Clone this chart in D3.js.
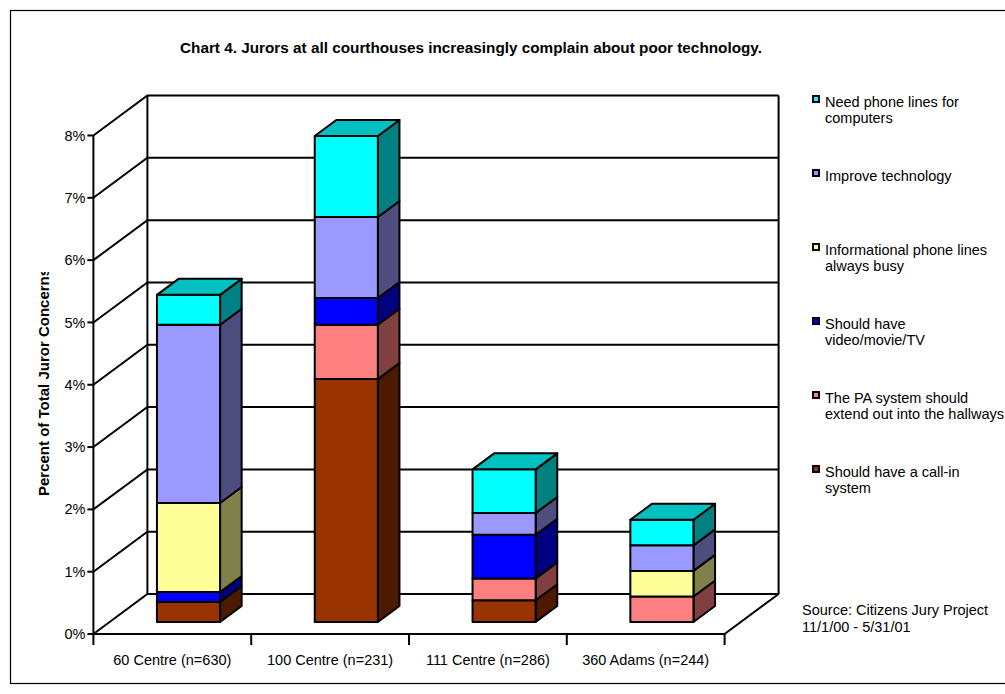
<!DOCTYPE html>
<html>
<head>
<meta charset="utf-8">
<script src="https://cdn.jsdelivr.net/npm/d3@7"></script>
<style>
  html, body { margin: 0; padding: 0; background: #fff; }
  svg text { font-family: "Liberation Sans", Arial, sans-serif; fill: #000; }
</style>
</head>
<body>
<svg id="chart" width="1005" height="694"></svg>
<script>
// Courthouses (x categories)
const courthouses = ["60 Centre (n=630)", "100 Centre (n=231)", "111 Centre (n=286)", "360 Adams (n=244)"];

// Share of total juror concerns, in percent, one array per concern
const callIn      = [0.32, 3.90, 0.35, 0.00];
const paSystem    = [0.00, 0.87, 0.35, 0.41];
const videoTV     = [0.16, 0.43, 0.70, 0.00];
const infoLines   = [1.43, 0.00, 0.00, 0.41];
const improveTech = [2.86, 1.30, 0.35, 0.41];
const phoneLines  = [0.48, 1.30, 0.70, 0.41];

// Series names, bottom of the stack first
const seriesNames = [
  "Should have a call-in system",
  "The PA system should extend out into the hallways",
  "Should have video/movie/TV",
  "Informational phone lines always busy",
  "Improve technology",
  "Need phone lines for computers"
];
const seriesValues = [callIn, paSystem, videoTV, infoLines, improveTech, phoneLines];

// Legend, listed top to bottom, with wrapped lines
const legendLines = [
  ["Need phone lines for", "computers"],
  ["Improve technology"],
  ["Informational phone lines", "always busy"],
  ["Should have", "video/movie/TV"],
  ["The PA system should", "extend out into the hallways"],
  ["Should have a call-in", "system"]
];

const yTicks = [0, 1, 2, 3, 4, 5, 6, 7, 8];
const yTickLabels = yTicks.map(d => d + "%");

// face colours: front, side, top
const palette = [
  { front: "#993300", side: "#4d1a00", top: "#732600" },
  { front: "#ff8080", side: "#804040", top: "#bf6060" },
  { front: "#0000ff", side: "#000080", top: "#0000bf" },
  { front: "#ffff99", side: "#80804d", top: "#bfbf73" },
  { front: "#9999ff", side: "#4d4d80", top: "#7373bf" },
  { front: "#00ffff", side: "#008080", top: "#00c0c0" }
];

const svg = d3.select("#chart");
const FONT = 14.5;

// outer frame (runs past the right edge of the page)
svg.append("rect")
  .attr("x", 10.5).attr("y", 10.5).attr("width", 1010).attr("height", 673)
  .attr("fill", "none").attr("stroke", "#000").attr("stroke-width", 1.2);

// title
svg.append("text")
  .attr("x", 471).attr("y", 53)
  .attr("text-anchor", "middle")
  .attr("font-weight", "bold")
  .attr("font-size", 15.3)
  .text("Chart 4. Jurors at all courthouses increasingly complain about poor technology.");

// projection: front plane plus depth offset
const DX = 54, DY = 40;
const x = d3.scaleBand().domain(courthouses).range([93.4, 724.6]).paddingInner(0).paddingOuter(0);
const y = d3.scaleLinear().domain([0, 8]).range([634, 135.5]);
const proj = (px, v, z) => [px + z * DX, y(v) - z * DY];

const g = svg.append("g");
const LW = 2;

// side wall + back wall gridlines
yTicks.forEach(t => {
  const a = proj(x.range()[0], t, 0), b = proj(x.range()[0], t, 1), c = proj(x.range()[1], t, 1);
  g.append("path")
    .attr("d", d3.line()([a, b, c]))
    .attr("fill", "none").attr("stroke", "#000").attr("stroke-width", LW);
});

// walls and floor edges
const x0 = x.range()[0], x1 = x.range()[1];
const wallEdges = [
  [proj(x0, 0, 0), proj(x0, 8, 0)],
  [proj(x0, 0, 1), proj(x0, 8, 1)],
  [proj(x1, 0, 1), proj(x1, 8, 1)],
  [proj(x0, 0, 0), proj(x1, 0, 0)],
  [proj(x1, 0, 0), proj(x1, 0, 1)]
];
wallEdges.forEach(e => g.append("path").attr("d", d3.line()(e))
  .attr("fill", "none").attr("stroke", "#000").attr("stroke-width", LW));

// y-axis ticks and labels
yTicks.forEach((t, i) => {
  const p = proj(x0, t, 0);
  g.append("line").attr("x1", p[0] - 6).attr("x2", p[0]).attr("y1", p[1]).attr("y2", p[1])
    .attr("stroke", "#000").attr("stroke-width", LW);
  g.append("text").attr("x", p[0] - 8).attr("y", p[1]).attr("dy", "0.35em")
    .attr("text-anchor", "end").attr("font-size", FONT).text(yTickLabels[i]);
});

// x-axis ticks and labels
const boundaries = courthouses.map(c => x(c)).concat([x1]);
boundaries.forEach(bx => {
  g.append("line").attr("x1", bx).attr("x2", bx).attr("y1", y(0)).attr("y2", y(0) + 11)
    .attr("stroke", "#000").attr("stroke-width", LW);
});
courthouses.forEach(c => {
  g.append("text").attr("x", x(c) + x.bandwidth() / 2).attr("y", 665)
    .attr("text-anchor", "middle").attr("font-size", FONT).text(c);
});

// y-axis title, clipped where its box ends
svg.append("clipPath").attr("id", "ytitle-clip")
  .append("rect").attr("x", 0).attr("y", 272).attr("width", 80).attr("height", 400);
svg.append("g")
  .attr("clip-path", "url(#ytitle-clip)")
  .append("text")
  .attr("transform", "translate(49,496) rotate(-90)")
  .attr("font-weight", "bold").attr("font-size", 15)
  .text("Percent of Total Juror Concerns");

// stacked 3-D columns
const stack = d3.stack().keys(d3.range(seriesValues.length))
  .value((d, k) => seriesValues[k][d]);
const stacked = stack(d3.range(courthouses.length));

const barW = x.bandwidth() / 2.5;
const zFront = 0.3, zBack = 0.7;
const bars = svg.append("g");

courthouses.forEach((c, ci) => {
  const left = x(c) + (x.bandwidth() - barW) / 2;
  const right = left + barW;
  let topSeries = -1;
  stacked.forEach((s, si) => { if (s[ci][1] - s[ci][0] > 0) topSeries = si; });
  stacked.forEach((s, si) => {
    const lo = s[ci][0], hi = s[ci][1];
    if (hi - lo <= 0) return;
    const col = palette[si];
    const front = [proj(left, lo, zFront), proj(right, lo, zFront), proj(right, hi, zFront), proj(left, hi, zFront)];
    const side = [proj(right, lo, zFront), proj(right, lo, zBack), proj(right, hi, zBack), proj(right, hi, zFront)];
    bars.append("path").attr("d", d3.line()(side) + "Z")
      .attr("fill", col.side).attr("stroke", "#000").attr("stroke-width", LW).attr("stroke-linejoin", "round");
    bars.append("path").attr("d", d3.line()(front) + "Z")
      .attr("fill", col.front).attr("stroke", "#000").attr("stroke-width", LW).attr("stroke-linejoin", "round");
    if (si === topSeries) {
      const top = [proj(left, hi, zFront), proj(right, hi, zFront), proj(right, hi, zBack), proj(left, hi, zBack)];
      bars.append("path").attr("d", d3.line()(top) + "Z")
        .attr("fill", col.top).attr("stroke", "#000").attr("stroke-width", LW).attr("stroke-linejoin", "round");
    }
  });
});

// legend
const legend = svg.append("g");
legendLines.forEach((lines, i) => {
  const si = seriesNames.length - 1 - i;
  const base = 107 + i * 74;
  legend.append("rect").attr("x", 813).attr("y", base - 11).attr("width", 6).attr("height", 6)
    .attr("fill", palette[si].front).attr("stroke", "#000").attr("stroke-width", 2);
  lines.forEach((ln, li) => {
    legend.append("text").attr("x", 825).attr("y", base + li * 15.5)
      .attr("font-size", FONT).text(ln);
  });
});

// source note
svg.append("text").attr("x", 802).attr("y", 615).attr("font-size", FONT).text("Source: Citizens Jury Project");
svg.append("text").attr("x", 802).attr("y", 631.5).attr("font-size", FONT).text("11/1/00 - 5/31/01");
</script>
</body>
</html>
